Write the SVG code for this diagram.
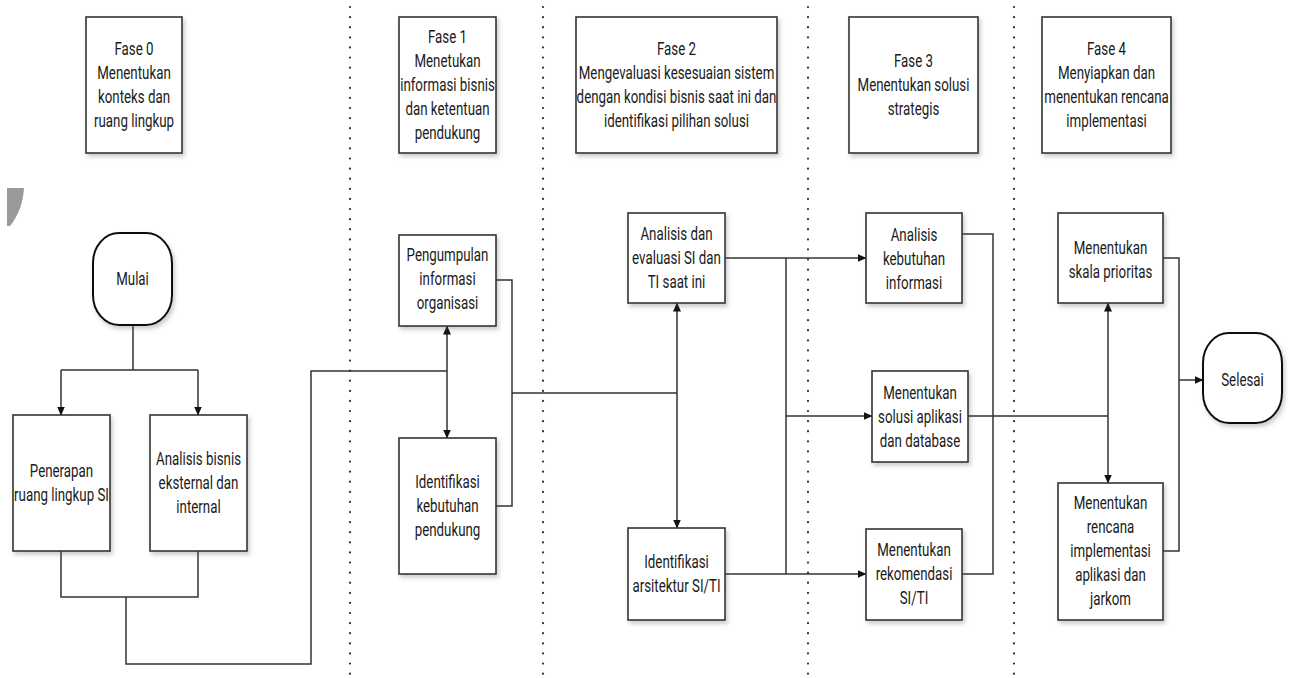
<svg xmlns="http://www.w3.org/2000/svg" width="1290" height="678" viewBox="0 0 1290 678">
<style>
.box{fill:#fff;stroke:#333;stroke-width:1.6;filter:url(#sh)}
.term{fill:#fff;stroke:#111;stroke-width:2;filter:url(#sh)}
.lbl{font-family:Roboto,"Liberation Sans",sans-serif;font-size:18px;fill:#1a1a1a;text-anchor:middle}
.ln{fill:none;stroke:#333;stroke-width:1.5}
.arr{marker-end:url(#ah)}
.sep{stroke:#333;stroke-width:2.2;stroke-dasharray:0.1 10;stroke-linecap:round}
</style>
<defs>
<filter id="sh" x="-20%" y="-20%" width="150%" height="150%">
<feDropShadow dx="2" dy="3" stdDeviation="2.2" flood-color="#556" flood-opacity="0.3"/>
</filter>
<marker id="ah" markerWidth="9" markerHeight="8" refX="8.5" refY="4" orient="auto" markerUnits="userSpaceOnUse">
<path d="M0,0 L9,4 L0,8 Z" fill="#111"/>
</marker>
<marker id="ahs" markerWidth="9" markerHeight="8" refX="0.5" refY="4" orient="auto" markerUnits="userSpaceOnUse">
<path d="M9,0 L0,4 L9,8 Z" fill="#111"/>
</marker>
</defs>
<rect width="1290" height="678" fill="#fff"/>
<path d="M7,188 L24,188 C23,204 18,216 10,226 L7,226 Z" fill="#9a9a9a"/>
<g id="separators">
<line class="sep" x1="350" y1="7" x2="350" y2="678"/>
<line class="sep" x1="543" y1="7" x2="543" y2="678"/>
<line class="sep" x1="808" y1="7" x2="808" y2="678"/>
<line class="sep" x1="1014" y1="7" x2="1014" y2="678"/>
</g>
<g id="connectors">
<path class="ln" d="M133,325 V370 M61,370 H198"/>
<path class="ln arr" d="M61,370 V415"/>
<path class="ln arr" d="M198,370 V415"/>
<path class="ln" d="M61,551 V597 H198 V551 M126,597 V664 H311 V371 H447"/>
<path class="ln" d="M447,326 V438" marker-start="url(#ahs)" marker-end="url(#ah)"/>
<path class="ln" d="M496,280 H512 V506 H496 M512,393 H677"/>
<path class="ln arr" d="M677,393 V303"/>
<path class="ln arr" d="M677,393 V528"/>
<path class="ln arr" d="M725,258 H866"/>
<path class="ln" d="M786,258 V574"/>
<path class="ln arr" d="M725,574 H866"/>
<path class="ln arr" d="M786,416 H872"/>
<path class="ln" d="M962,234 H993 V574 H962 M968,416 H1108"/>
<path class="ln arr" d="M1108,416 V303"/>
<path class="ln arr" d="M1108,416 V483"/>
<path class="ln" d="M1163,258 H1179 V551 H1163"/>
<path class="ln arr" d="M1179,380 H1203"/>
</g>
<g id="fase0">
<rect class="box" x="86" y="17" width="96" height="136"/>
<text class="lbl" transform="translate(134,55) scale(0.74,1)"><tspan x="0">Fase 0</tspan><tspan x="0" dy="24">Menentukan</tspan><tspan x="0" dy="24">konteks dan</tspan><tspan x="0" dy="24">ruang lingkup</tspan></text>
</g>
<g id="fase1">
<rect class="box" x="399" y="17" width="97" height="136"/>
<text class="lbl" transform="translate(447.5,43) scale(0.74,1)"><tspan x="0">Fase 1</tspan><tspan x="0" dy="24">Menetukan</tspan><tspan x="0" dy="24">informasi bisnis</tspan><tspan x="0" dy="24">dan ketentuan</tspan><tspan x="0" dy="24">pendukung</tspan></text>
</g>
<g id="fase2">
<rect class="box" x="576" y="17" width="201" height="136"/>
<text class="lbl" transform="translate(676.5,55) scale(0.74,1)"><tspan x="0">Fase 2</tspan><tspan x="0" dy="24">Mengevaluasi kesesuaian sistem</tspan><tspan x="0" dy="24">dengan kondisi bisnis saat ini dan</tspan><tspan x="0" dy="24">identifikasi pilihan solusi</tspan></text>
</g>
<g id="fase3">
<rect class="box" x="849" y="17" width="129" height="136"/>
<text class="lbl" transform="translate(913.5,67) scale(0.74,1)"><tspan x="0">Fase 3</tspan><tspan x="0" dy="24">Menentukan solusi</tspan><tspan x="0" dy="24">strategis</tspan></text>
</g>
<g id="fase4">
<rect class="box" x="1042" y="17" width="129" height="136"/>
<text class="lbl" transform="translate(1106.5,55) scale(0.74,1)"><tspan x="0">Fase 4</tspan><tspan x="0" dy="24">Menyiapkan dan</tspan><tspan x="0" dy="24">menentukan rencana</tspan><tspan x="0" dy="24">implementasi</tspan></text>
</g>
<g id="mulai">
<rect class="term" x="93" y="233" width="79" height="92" rx="26" ry="30"/>
<text class="lbl" transform="translate(132.5,285) scale(0.74,1)">Mulai</text>
</g>
<g id="penerapan">
<rect class="box" x="13" y="415" width="97" height="136"/>
<text class="lbl" transform="translate(61.5,477) scale(0.74,1)"><tspan x="0">Penerapan</tspan><tspan x="0" dy="24">ruang lingkup SI</tspan></text>
</g>
<g id="analisis-bisnis">
<rect class="box" x="150" y="415" width="97" height="136"/>
<text class="lbl" transform="translate(198.5,465) scale(0.74,1)"><tspan x="0">Analisis bisnis</tspan><tspan x="0" dy="24">eksternal dan</tspan><tspan x="0" dy="24">internal</tspan></text>
</g>
<g id="pengumpulan">
<rect class="box" x="399" y="235" width="97" height="91"/>
<text class="lbl" transform="translate(447.5,261) scale(0.74,1)"><tspan x="0">Pengumpulan</tspan><tspan x="0" dy="24">informasi</tspan><tspan x="0" dy="24">organisasi</tspan></text>
</g>
<g id="identifikasi-kebutuhan">
<rect class="box" x="399" y="438" width="97" height="136"/>
<text class="lbl" transform="translate(447.5,488) scale(0.74,1)"><tspan x="0">Identifikasi</tspan><tspan x="0" dy="24">kebutuhan</tspan><tspan x="0" dy="24">pendukung</tspan></text>
</g>
<g id="analisis-evaluasi">
<rect class="box" x="628" y="213" width="97" height="90"/>
<text class="lbl" transform="translate(676.5,240) scale(0.74,1)"><tspan x="0">Analisis dan</tspan><tspan x="0" dy="24">evaluasi SI dan</tspan><tspan x="0" dy="24">TI saat ini</tspan></text>
</g>
<g id="identifikasi-arsitektur">
<rect class="box" x="628" y="528" width="97" height="92"/>
<text class="lbl" transform="translate(676.5,568) scale(0.74,1)"><tspan x="0">Identifikasi</tspan><tspan x="0" dy="24">arsitektur SI/TI</tspan></text>
</g>
<g id="analisis-kebutuhan">
<rect class="box" x="866" y="213" width="96" height="90"/>
<text class="lbl" transform="translate(914,241) scale(0.74,1)"><tspan x="0">Analisis</tspan><tspan x="0" dy="24">kebutuhan</tspan><tspan x="0" dy="24">informasi</tspan></text>
</g>
<g id="solusi-aplikasi">
<rect class="box" x="872" y="371" width="96" height="91"/>
<text class="lbl" transform="translate(920,399) scale(0.74,1)"><tspan x="0">Menentukan</tspan><tspan x="0" dy="24">solusi aplikasi</tspan><tspan x="0" dy="24">dan database</tspan></text>
</g>
<g id="rekomendasi">
<rect class="box" x="866" y="529" width="96" height="91"/>
<text class="lbl" transform="translate(914,556) scale(0.74,1)"><tspan x="0">Menentukan</tspan><tspan x="0" dy="24">rekomendasi</tspan><tspan x="0" dy="24">SI/TI</tspan></text>
</g>
<g id="skala-prioritas">
<rect class="box" x="1058" y="213" width="105" height="90"/>
<text class="lbl" transform="translate(1110.5,254) scale(0.74,1)"><tspan x="0">Menentukan</tspan><tspan x="0" dy="24">skala prioritas</tspan></text>
</g>
<g id="rencana-implementasi">
<rect class="box" x="1058" y="483" width="105" height="137"/>
<text class="lbl" transform="translate(1110.5,509) scale(0.74,1)"><tspan x="0">Menentukan</tspan><tspan x="0" dy="24">rencana</tspan><tspan x="0" dy="24">implementasi</tspan><tspan x="0" dy="24">aplikasi dan</tspan><tspan x="0" dy="24">jarkom</tspan></text>
</g>
<g id="selesai">
<rect class="term" x="1203" y="333" width="79" height="90" rx="26" ry="30"/>
<text class="lbl" transform="translate(1242.5,386) scale(0.74,1)">Selesai</text>
</g>
</svg>
